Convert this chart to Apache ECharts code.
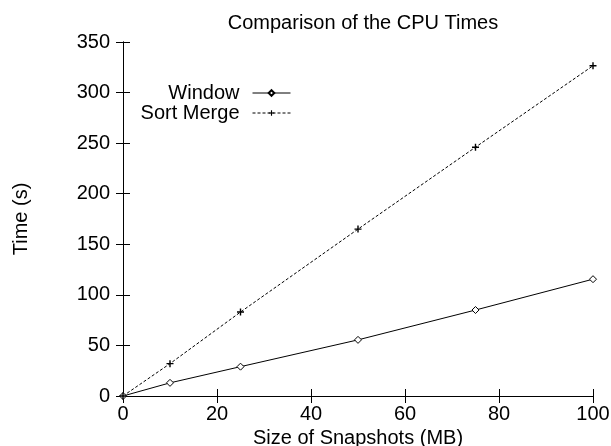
<!DOCTYPE html>
<html><head><meta charset="utf-8">
<script src="https://cdn.jsdelivr.net/npm/echarts@6/dist/echarts.min.js"></script>
<style>html,body{margin:0;padding:0;background:#fff}#c{width:611px;height:446px}</style>
</head><body><div id="c"></div>
<script>
const sizes = [0, 10, 25, 50, 75, 100];
const windowTimes = [0, 13, 29, 55.5, 85, 115.5];
const sortMergeTimes = [0, 32, 83, 165, 246, 326.5];
const xTicks = [0, 20, 40, 60, 80, 100];
const yTicks = [0, 50, 100, 150, 200, 250, 300, 350];

const font = 'Liberation Sans, Arial, Helvetica, sans-serif';
const chart = echarts.init(document.getElementById('c'), null, {renderer: 'canvas'});
const plusPath = 'path://M4,0H6V4H10V6H6V10H4V6H0V4H4Z';
const tickCommon = {inside: true, length: 7, lineStyle: {color: '#000', width: 1}};
const axisLineCommon = {show: true, lineStyle: {color: '#000', width: 1}};
chart.setOption({
  animation: false,
  title: {text: 'Comparison of the CPU Times', left: 358, top: 8, textAlign: 'center',
    textStyle: {fontFamily: font, fontSize: 20, fontWeight: 'normal', color: '#000'}},
  legend: {
    orient: 'vertical', right: 315, top: 78, align: 'right', itemWidth: 38, itemHeight: 7, itemGap: 0,
    textStyle: {fontFamily: font, fontSize: 20, lineHeight: 20, color: '#000', padding: [0, 8, 0, 0]},
    lineStyle: {width: 1},
    data: ['Window', 'Sort Merge']
  },
  grid: {left: 123, right: 18, top: 42, bottom: 50, containLabel: false, outerBoundsMode: 'none'},
  xAxis: [{
    type: 'value', min: 0, max: 100, interval: 20,
    name: 'Size of Snapshots (MB)', nameLocation: 'middle', nameGap: 32,
    nameTextStyle: {fontFamily: font, fontSize: 20, color: '#000'},
    axisLine: axisLineCommon, axisTick: tickCommon, splitLine: {show: false},
    axisLabel: {fontFamily: font, fontSize: 20, color: '#000', margin: 8}
  }, {
    type: 'value', position: 'top', min: 0, max: 100, interval: 20,
    axisLine: axisLineCommon, axisTick: tickCommon, splitLine: {show: false}, axisLabel: {show: false}
  }],
  yAxis: [{
    type: 'value', min: 0, max: 350, interval: 50,
    name: 'Time (s)', nameLocation: 'middle', nameGap: 92, nameRotate: 90,
    nameTextStyle: {fontFamily: font, fontSize: 20, color: '#000'},
    axisLine: axisLineCommon, axisTick: tickCommon, splitLine: {show: false},
    axisLabel: {fontFamily: font, fontSize: 20, color: '#000', margin: 13}
  }, {
    type: 'value', position: 'right', min: 0, max: 350, interval: 50,
    axisLine: axisLineCommon, axisTick: tickCommon, splitLine: {show: false}, axisLabel: {show: false}
  }],
  series: [{
    name: 'Window', type: 'line', data: sizes.map((x, i) => [x, windowTimes[i]]),
    symbol: 'diamond', symbolSize: 7, showAllSymbol: true,
    lineStyle: {color: '#000', width: 1}, itemStyle: {color: '#fff', borderColor: '#000', borderWidth: 1}
  }, {
    name: 'Sort Merge', type: 'line', data: sizes.map((x, i) => [x, sortMergeTimes[i]]),
    symbol: plusPath, symbolSize: 7, showAllSymbol: true,
    lineStyle: {color: '#000', width: 1, type: [3, 2]}, itemStyle: {color: '#000', borderWidth: 0}
  }]
});
</script></body></html>
